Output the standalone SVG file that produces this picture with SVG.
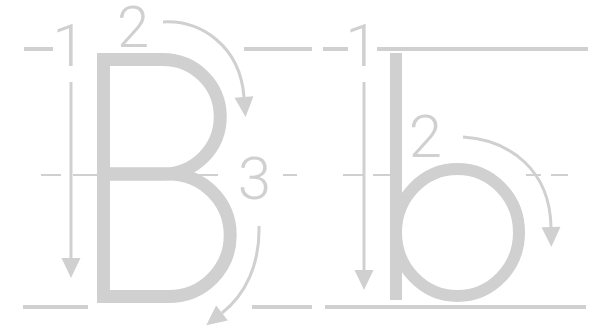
<svg xmlns="http://www.w3.org/2000/svg" width="596" height="333" viewBox="0 0 596 333">
<defs>
<style>
.guide{stroke:#d0d0d0;stroke-width:4;fill:none}
.mid{stroke:#d0d0d0;stroke-width:2;fill:none}
.letter{stroke:#d0d0d0;stroke-width:13;fill:none;stroke-linejoin:miter;stroke-linecap:butt}
.arrow{stroke:#d0d0d0;stroke-width:3;fill:none}
.num{font-family:Roboto,"Liberation Sans",sans-serif;font-weight:300;font-size:60px;fill:#d0d0d0;text-anchor:middle}
</style>
<marker id="head" markerUnits="userSpaceOnUse" markerWidth="22" markerHeight="20" refX="0" refY="9.5" orient="auto" viewBox="0 0 22 19" overflow="visible">
<path d="M0,0 L20,9.5 L0,19 Z" fill="#d0d0d0"/>
</marker>
</defs>
<rect width="596" height="333" fill="#ffffff"/>
<g id="guides">
<path class="guide" d="M24,49 H53 M244,49 H312 M323,49 H348 M377,49 H588"/>
<path class="guide" d="M23,307 H88 M252,307 H312 M325,307 H586"/>
<path class="mid" d="M41,175 H61 M73,175 H97 M195,175 H218 M283,175 H297 M343,175 H363 M373,175 H390 M526,175 H541 M551,175 H568"/>
</g>
<g id="letter-B">
<path class="letter" d="M163,59.5 H103.5 V296.5 H169"/>
<path class="letter" d="M163,59.5 A57.25,57.25 0 0 1 163,174 H103.5"/>
<path class="letter" d="M103.5,174 H169 A61.25,61.25 0 0 1 169,296.5"/>
</g>
<g id="letter-b">
<path class="letter" style="stroke-width:12" d="M396,53 V300"/>
<ellipse class="letter" style="stroke-width:12" cx="457.5" cy="232.5" rx="61.5" ry="63.5"/>
</g>
<g id="connectors">
<path class="arrow" d="M71,82 V258" marker-end="url(#head)"/>
<path class="arrow" d="M163,22 C200,20 240,45 244,97" marker-end="url(#head)"/>
<path class="arrow" d="M259,226 C260,265 245,295 222,313" marker-end="url(#head)"/>
<path class="arrow" d="M364,82 V270" marker-end="url(#head)"/>
<path class="arrow" d="M463,137 C510,140 550,170 551,227" marker-end="url(#head)"/>
</g>
<g id="numbers">
<text class="num" x="69" y="66">1</text>
<text class="num" x="133" y="47" style="font-size:58px">2</text>
<text class="num" x="254.5" y="199">3</text>
<text class="num" x="362" y="66">1</text>
<text class="num" x="425.5" y="157">2</text>
</g>
</svg>
